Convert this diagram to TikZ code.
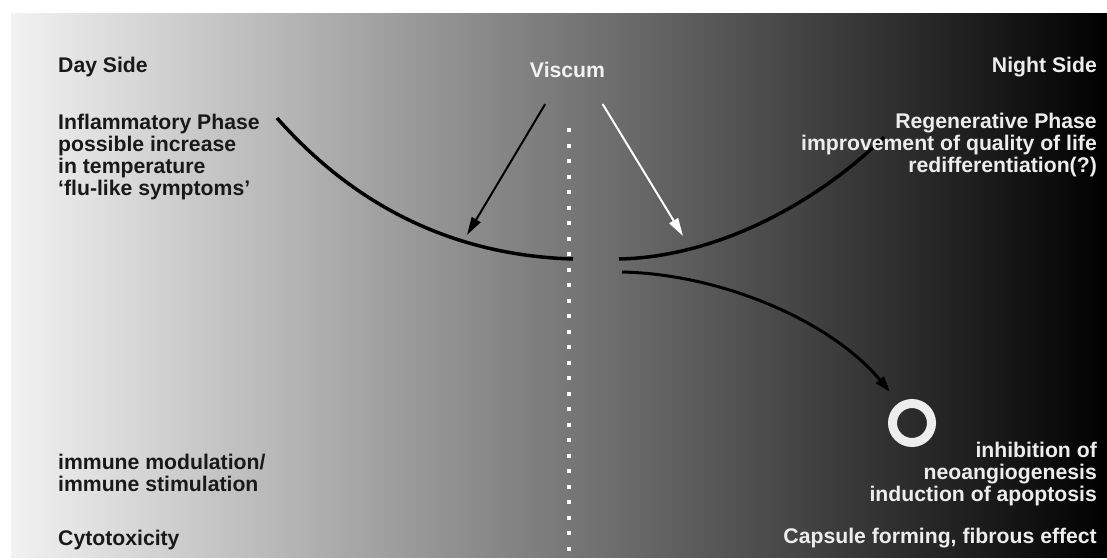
\documentclass[tikz,border=0pt]{standalone}
\usepackage{fontspec}
\setmainfont{Liberation Sans}
\usetikzlibrary{arrows.meta}

\begin{document}
\begin{tikzpicture}[
    x=1pt, y=-1pt,
    txt/.style={inner sep=0pt, font=\fontsize{21.2}{22}\selectfont\bfseries},
    daytxt/.style={txt, text=black!90, anchor=base west, align=left},
    nighttxt/.style={txt, text=white!93!black, anchor=base east, align=right},
    curve/.style={line width=3.5pt, black},
    arr/.style={-{Triangle[length=18pt, width=10pt]}, line width=2pt, shorten <=30pt},
]

% Background
\useasboundingbox (0,0) rectangle (1107,559);
\shade[left color=white!95!black, right color=black] (11,14) rectangle (1107,557);

% Divider
\draw[white, line width=4pt, dash pattern=on 4pt off 11.5pt] (569,128) -- (569,557);

% Curves
\coordinate (dayStart) at (277,118);
\coordinate (dayEnd) at (573,259);
\coordinate (nightEnd) at (619,259);
\coordinate (nightStart) at (884,137);
\coordinate (splitStart) at (622,272);
\coordinate (ringTip) at (890,392);
\draw[curve] (dayStart) .. controls (345,195) and (440,255) .. (dayEnd);
\draw[curve] (nightEnd) .. controls (720,257) and (820,200) .. (nightStart);
\draw[curve, line width=3pt, -{Triangle[length=16pt, width=10pt]}] (splitStart) .. controls (720,274) and (830,320) .. (ringTip);

% Nodes (multi-line blocks sit on the baseline of their last line)
\node[txt, text=white!95!black, anchor=base] (viscum) at (567.5,78) {Viscum};
\node[daytxt] (daySide) at (58,73) {Day Side};
\node[daytxt] (inflam) at (58,195) {Inflammatory Phase\\possible increase\\in temperature\\`flu-like symptoms'};
\node[daytxt] (immune) at (58,491) {immune modulation/\\immune stimulation};
\node[daytxt] (cyto) at (58,545) {Cytotoxicity};
\node[nighttxt] (nightSide) at (1097,73) {Night Side};
\node[nighttxt] (regen) at (1097,172) {Regenerative Phase\\improvement of quality of life\\redifferentiation(?)};
\node[nighttxt] (inhib) at (1097,501) {inhibition of\\neoangiogenesis\\induction of apoptosis};
\node[nighttxt] (capsule) at (1097,543) {Capsule forming, fibrous effect};
\node[circle, draw=white!93!black, line width=9pt, minimum size=39pt, inner sep=0pt] (ring) at (912,423) {};

% Arrows
\coordinate (dayTip) at (467,235);
\coordinate (nightTip) at (683,236);
\draw[arr, black] ([xshift=-7pt]viscum.south) -- (dayTip);
\draw[arr, white] ([xshift=19.5pt]viscum.south) -- (nightTip);

\end{tikzpicture}
\end{document}
